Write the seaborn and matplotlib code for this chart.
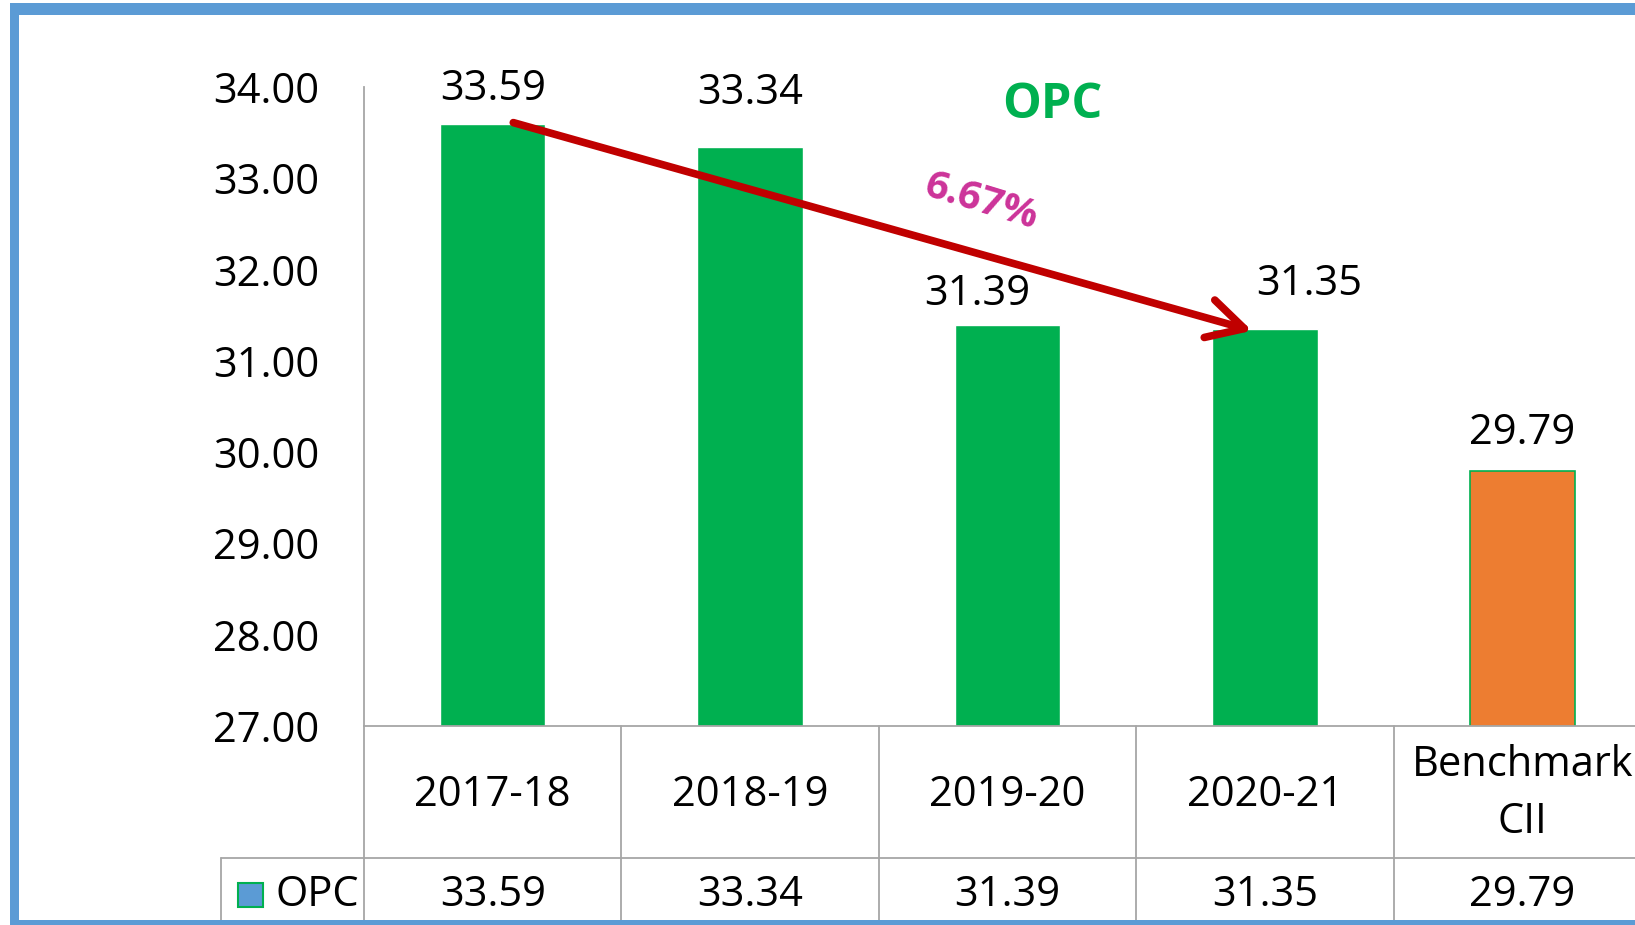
import matplotlib
matplotlib.use("Agg")
import matplotlib.pyplot as plt
import matplotlib.transforms as mtransforms
from matplotlib.patches import Rectangle
import seaborn as sns

# data
categories = ["2017-18", "2018-19", "2019-20", "2020-21", "Benchmark\nCII"]
opc = [33.59, 33.34, 31.39, 31.35, 29.79]
bar_colors = ["#00B050", "#00B050", "#00B050", "#00B050", "#ED7D31"]
change_label = "6.67%"
series_name = "OPC"

# label nudges (pixels) to mimic the hand-placed excel labels
label_dx = [0, 0, -30, 44, 0]
label_dy = [35, 54, 31, 45, 38]

sns.set_theme(style="white")
plt.rcParams["font.family"] = ["Open Sans", "DejaVu Sans"]
plt.rcParams["text.color"] = "black"
plt.rcParams["ytick.color"] = "black"

fig = plt.figure(figsize=(16.35, 9.25), dpi=100)
ax = fig.add_axes([364 / 1635, 199 / 925, 1287 / 1635, 639 / 925])

sns.barplot(x=categories, y=opc, hue=categories, palette=bar_colors,
            legend=False, width=0.41, ax=ax, saturation=1)
ax.patches[-1].set_edgecolor("#00B050")
ax.patches[-1].set_linewidth(1.2)

ax.set_ylim(27, 34)
ax.set_xlim(-0.5, 4.5)
ax.set_yticks(range(27, 35))
ax.set_yticklabels([f"{v:.2f}" for v in range(27, 35)], fontsize=30, color="black")
ax.tick_params(axis="y", length=0, pad=32)
ax.set_xticks([])
ax.set_xlabel("")
ax.set_ylabel("")
for s in ["top", "right"]:
    ax.spines[s].set_visible(False)
for s in ["left", "bottom"]:
    ax.spines[s].set_color("#A6A6A6")
    ax.spines[s].set_linewidth(1.3)

# data labels
for i, v in enumerate(opc):
    ax.annotate(f"{v:.2f}", (i, v), xytext=(label_dx[i], label_dy[i]),
                textcoords="offset pixels", ha="center", va="center", fontsize=30,
                color="black")

# title
ax.text(2.175, 33.8, series_name, color="#00B050", fontsize=35, fontweight="bold",
        ha="center", va="center")

# trend arrow
ax.annotate("", xy=(2.95, 31.33), xytext=(0.08, 33.61),
            arrowprops=dict(arrowstyle="->,head_length=1.3,head_width=0.7",
                            color="#C00000", lw=5.5, mutation_scale=20,
                            shrinkA=0, shrinkB=0))
ax.text(1.9, 32.74, change_label, color="#CC3399", fontsize=29, fontweight="bold",
        rotation=-17, ha="center", va="center")

# data table below the axis
tr = mtransforms.blended_transform_factory(ax.transData, ax.transAxes)
grid_kw = dict(color="#A6A6A6", lw=1.3, transform=tr, clip_on=False)
row_y = -0.2066
bottom_y = -0.32
for b in [-0.5, 0.5, 1.5, 2.5, 3.5, 4.5]:
    ax.plot([b, b], [0, bottom_y], **grid_kw)
ax.plot([-1.056, 4.6], [row_y, row_y], **grid_kw)
ax.plot([-1.056, -1.056], [row_y, bottom_y], **grid_kw)

txt_kw = dict(transform=tr, ha="center", va="center", fontsize=30, clip_on=False, color="black")
for i, c in enumerate(categories):
    if "\n" in c:
        top, bot = c.split("\n")
        ax.text(i, -0.0603, top, **txt_kw)
        ax.text(i, -0.151, bot, **txt_kw)
    else:
        ax.text(i, -0.1083, c, **txt_kw)
    ax.text(i, -0.264, f"{opc[i]:.2f}", **txt_kw)

# legend key in the table
ax.add_patch(Rectangle((-0.99, -0.284), 0.097, 0.039, transform=tr, clip_on=False,
                       facecolor="#5B9BD5", edgecolor="#00B050", lw=1.5))
ax.text(-0.845, -0.264, series_name, transform=tr, ha="left", va="center", fontsize=30,
        clip_on=False, color="black")

# blue frame around the slide
frame = "#5B9BD5"
fig.patches.append(Rectangle((10 / 1635, 0), 9 / 1635, 922 / 925, transform=fig.transFigure,
                             facecolor=frame, edgecolor="none"))
fig.patches.append(Rectangle((10 / 1635, 910 / 925), 1625 / 1635, 12 / 925, transform=fig.transFigure,
                             facecolor=frame, edgecolor="none"))
fig.patches.append(Rectangle((10 / 1635, 0), 1625 / 1635, 5 / 925, transform=fig.transFigure,
                             facecolor=frame, edgecolor="none"))

fig.savefig("out.png", dpi=100)
